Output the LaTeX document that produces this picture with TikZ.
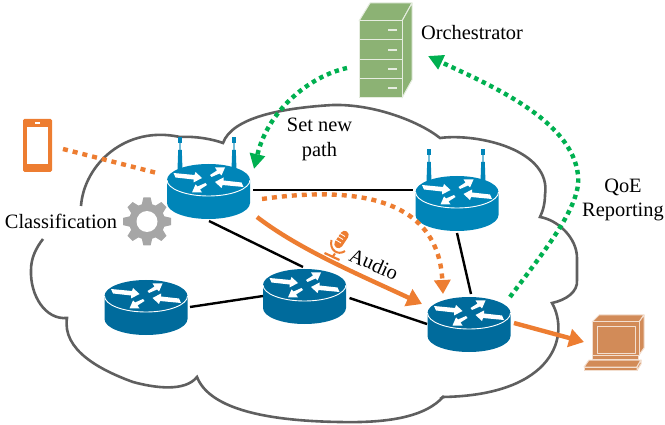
\documentclass[tikz,border=0pt]{standalone}
\usepackage{fontspec}
\setmainfont{Liberation Serif}
\usetikzlibrary{arrows.meta}
\definecolor{rtop}{HTML}{0085B8}
\definecolor{rlow}{HTML}{006B9C}
\definecolor{orng}{HTML}{ED7D31}
\definecolor{grn}{HTML}{00B050}
\definecolor{srvc}{HTML}{8CB274}
\definecolor{srve}{HTML}{E6EDE0}
\definecolor{pcc}{HTML}{D28B58}
\definecolor{pce}{HTML}{F3DFD0}
\definecolor{cloudc}{HTML}{5F5F5F}
\definecolor{gearc}{HTML}{A6A6A6}
\tikzset{
  anchorbox/.style={inner sep=0pt,minimum width=89pt,minimum height=61pt},
  cloudline/.style={draw=cloudc,line width=2.6pt,line join=miter},
  link/.style={draw=black,line width=2.4pt},
  lbl/.style={font=\fontsize{20.4pt}{25pt}\selectfont,inner sep=0pt,text=black},
  greendot/.style={draw=grn,line width=4.4pt,dash pattern=on 4.4pt off 4pt,-{Triangle[length=15pt,width=15pt]}},
  orangedot/.style={draw=orng,line width=4.4pt,dash pattern=on 5pt off 5pt},
  orangeline/.style={draw=orng,line width=4.4pt,-{Triangle[length=15pt,width=18pt]}},
}
\newcommand{\routerat}[4]{%
  \node[anchorbox] (#1) at (#2,#3) {};
  \begin{scope}[shift={(#2,#3)}]
    \fill[#4] (-41.5,0) -- (-41.5,23) arc[start angle=180,end angle=360,x radius=41.5pt,y radius=16pt] -- (41.5,0) -- cycle;
    \fill[#4] (0,0) ellipse[x radius=41.5pt,y radius=16pt];
    \draw[white,line width=0.9pt] (-41.5,0) arc[start angle=180,end angle=360,x radius=41.5pt,y radius=16pt];
    \fill[white] (-35,-7) -- (-14,-5) -- (-13,-8) -- (-6.5,-2) -- (-15,2.5) -- (-15,-0.5) -- (-33,-2.5) -- cycle;
    \fill[white] (35,7) -- (14,5) -- (13,8) -- (6.5,2) -- (15,-2.5) -- (15,0.5) -- (33,2.5) -- cycle;
    \fill[white] (1.5,-5) -- (8.5,-9.5) -- (6.5,-12.5) -- (16.5,-12.5) -- (13,-4.5) -- (11,-6.5) -- (3,-3) -- cycle;
    \fill[white] (-1.5,5) -- (-8.5,9.5) -- (-6.5,12.5) -- (-16.5,12.5) -- (-13,4.5) -- (-11,6.5) -- (-3,3) -- cycle;
  \end{scope}
}
\newcommand{\antennaat}[2]{%
  \fill[rtop] (#1-2.3,#2-43) rectangle (#1+2.3,#2-37);
  \fill[rtop!55!white] (#1-1,#2-37) rectangle (#1+1,#2-30);
  \fill[rtop] (#1-1.8,#2-30) -- (#1+1.8,#2-30) -- (#1+2.5,#2-10) -- (#1-2.5,#2-10) -- cycle;
}
\begin{document}
\begin{tikzpicture}[x=1pt,y=-1pt]
\useasboundingbox (0,0) rectangle (665,425);
% cloud
\draw[cloudline]
  (81,206) .. controls (84,165) and (125,125) .. (180,137)
  .. controls (195,136) and (212,139) .. (223,143)
  .. controls (232,118) and (280,108) .. (333,105)
  .. controls (375,104) and (420,122) .. (440,138)
  .. controls (478,133) and (552,150) .. (545,195)
  .. controls (545,203) and (543,211) .. (540,217)
  .. controls (558,220) and (577,238) .. (577,258)
  -- (577,280)
  .. controls (578,292) and (566,300) .. (552,303)
  .. controls (570,335) and (555,395) .. (443,397)
  -- (440,399);
\draw[cloudline]
  (444,396) .. controls (425,418) and (385,423) .. (340,422)
  .. controls (270,421) and (210,410) .. (197,377)
  .. controls (185,392) and (155,388) .. (133,382)
  .. controls (100,370) and (62,350) .. (67,318)
  .. controls (45,320) and (30,295) .. (31,270)
  .. controls (31,258) and (36,248) .. (43,239);
% routers
\antennaat{180}{180}
\antennaat{234}{180}
\antennaat{429}{192}
\antennaat{483}{192}
\routerat{r1}{208.5}{180}{rtop}
\routerat{r2}{457}{192}{rtop}
\routerat{r3}{146}{296}{rlow}
\routerat{r4}{304.5}{285}{rlow}
\routerat{r5}{469}{313}{rlow}
% server
\node[inner sep=0pt,minimum width=53pt,minimum height=95pt] (srv) at (385.5,50.5) {};
\begin{scope}[draw=srve,fill=srvc,line width=1pt,line join=round]
  \filldraw (359,21) -- (370,3) -- (412,3) -- (402,21) -- cycle;
  \filldraw (402,21) -- (412,3) -- (412,80) -- (402,98) -- cycle;
  \filldraw (359,21) rectangle (402,40);
  \filldraw (359,40) rectangle (402,60);
  \filldraw (359,60) rectangle (402,79);
  \filldraw (359,79) rectangle (402,98);
\end{scope}
\draw[srve,line width=1.2pt] (388,30) -- (397,30) (388,50) -- (397,50) (388,69) -- (397,69) (388,88) -- (397,88);
% phone
\node[inner sep=0pt,minimum width=29pt,minimum height=53pt,rounded corners=1.5pt,fill=orng] (phone) at (37.5,145.5) {};
\fill[white] (27,127) rectangle (48,164);
\fill[white] (35,122.5) rectangle (40,124);
% computer
\node[inner sep=0pt,minimum width=60pt,minimum height=55pt] (pc) at (614,342.5) {};
\begin{scope}[draw=pce,fill=pcc,line width=1pt,line join=round]
  \filldraw (592,322) -- (599,315) -- (644,315) -- (639,322) -- cycle;
  \filldraw (639,322) -- (644,315) -- (644,348) -- (639,355) -- cycle;
  \filldraw (592,322) rectangle (639,355);
  \draw (597,326) rectangle (635,353);
  \filldraw (592,355) rectangle (638,359);
  \filldraw (584,367) -- (589,360) -- (641,360) -- (637,367) -- cycle;
  \filldraw (584,367) rectangle (637,370.5);
  \filldraw (637,367) -- (641,360) -- (641,364) -- (637,370.5) -- cycle;
\end{scope}
% gear
\node[inner sep=0pt,minimum size=48pt] (gear) at (147,221.5) {};
\begin{scope}[shift={(147,221.5)}]
  \foreach \a in {0,45,...,315} {
    \fill[gearc,rotate=\a] (-5.5,-16) -- (-3.6,-24) -- (3.6,-24) -- (5.5,-16) -- cycle;
  }
  \fill[gearc] (0,0) circle[radius=18pt];
  \fill[white] (0,0) circle[radius=10.5pt];
\end{scope}
% links
\draw[link] ([shift={(44.5,10)}]r1.center) -- ([shift={(-44,-2)}]r2.center);
\draw[link] ([shift={(0.5,41)}]r1.center) -- ([shift={(-1.5,-18)}]r4.center);
\draw[link] ([shift={(44,11)}]r3.center) -- ([shift={(-41.5,11)}]r4.center);
\draw[link] ([shift={(45,13)}]r4.center) -- ([shift={(-42,11)}]r5.center);
\draw[link] ([shift={(0,41)}]r2.center) -- ([shift={(2,-19)}]r5.center);
% dotted connectors
\draw[orangedot] ([shift={(25.5,3.5)}]phone.center) -- ([shift={(-51.5,-7)}]r1.center);
\draw[orangedot,-{Triangle[length=14pt,width=16pt]}] ([shift={(53.5,19)}]r1.center) .. controls (340,188) and (438,190) .. ([shift={(-26,-19)}]r5.center);
\draw[greendot] ([shift={(-38.5,17.5)}]srv.center) .. controls (310,76) and (268,110) .. ([shift={(45.5,-11)}]r1.center);
\draw[greendot] ([shift={(41,-16)}]r5.center) .. controls (545,250) and (582,205) .. (578,175) .. controls (572,120) and (490,85) .. ([shift={(42.5,5.5)}]srv.center);
% solid orange
\draw[orangeline] ([shift={(48.5,37)}]r1.center) .. controls (300,250) and (360,275) .. ([shift={(-47,-9)}]r5.center);
\draw[orangeline] ([shift={(45,10)}]r5.center) -- ([shift={(-30,-0.5)}]pc.center);
% microphone
\node[inner sep=0pt,minimum size=22pt] (mic) at (336,246) {};
\begin{scope}[orng]
  \draw[line width=8.5pt,line cap=round] (344.5,235) -- (338.5,244);
  \draw[white,line width=0.8pt] (340,233.5) -- (345,236.5) (338,236.5) -- (343,239.5) (336,240) -- (341,243);
  \draw[line width=2pt] (331.5,240) .. controls (329,250) and (338,256) .. (345,251);
  \draw[line width=2pt] (335,253.5) -- (332,257.5);
  \draw[line width=2.2pt] (324.5,253) -- (339.5,260);
\end{scope}
% labels
\node[lbl,anchor=base] (orch) at (472,40) {Orchestrator};
\node[lbl,anchor=base] (setp) at (319.5,132) {Set new};
\node[lbl,anchor=base] (setq) at (319.5,157) {path};
\node[lbl,anchor=base] (qoe) at (623,193) {QoE};
\node[lbl,anchor=base] (rep) at (623,217) {Reporting};
\node[lbl,anchor=base] (cls) at (61,229) {Classification};
\node[lbl,rotate=-24] (aud) at (374,264) {Audio};
\end{tikzpicture}
\end{document}
